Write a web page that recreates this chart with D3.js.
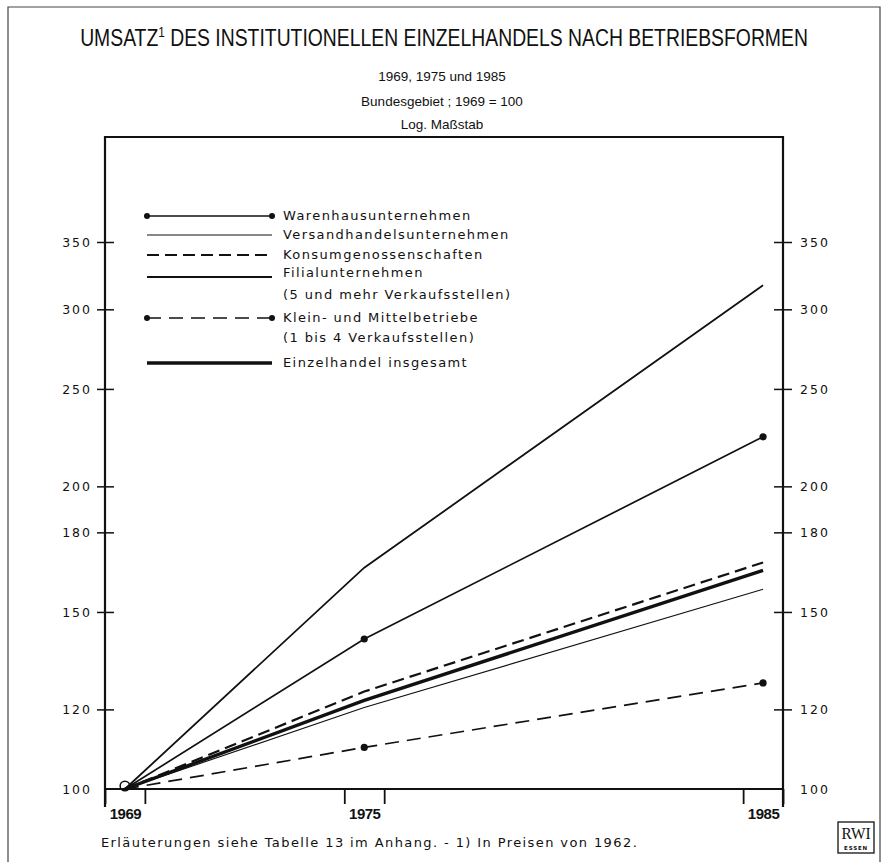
<!DOCTYPE html>
<html>
<head>
<meta charset="utf-8">
<script src="https://cdn.jsdelivr.net/npm/d3@7"></script>
<style>
  body { margin: 0; background: #fff; }
  svg { display: block; }
  .ax path, .ax line { stroke: #111; }
  .ytick text { font-family: "DejaVu Sans", sans-serif; font-size: 12.5px; letter-spacing: 2px; fill: #111; }
  .xlab text { font-family: "Liberation Sans", Arial, sans-serif; font-weight: bold; font-size: 15px; fill: #111; letter-spacing: -0.5px; }
  .leg { font-family: "DejaVu Sans", sans-serif; font-size: 13px; letter-spacing: 1.4px; fill: #111; }
  .sub { font-family: "Liberation Sans", Arial, sans-serif; font-size: 13.5px; fill: #111; }
</style>
</head>
<body>
<div class="forSvg"></div>
<script>
// -DATA-
const years = [1969, 1975, 1985];
const yTicks = [100, 120, 150, 180, 200, 250, 300, 350];

// index values, 1969 = 100
const warenhaus = [100, 141, 224];
const versand = [100, 120.5, 158];
const konsum = [100, 125, 168];
const filial = [100, 166, 317];
const klein = [100, 110, 127.5];
const insgesamt = [100, 122.5, 165];

const names = [
  "Warenhausunternehmen",
  "Versandhandelsunternehmen",
  "Konsumgenossenschaften",
  "Filialunternehmen",
  "Klein- und Mittelbetriebe",
  "Einzelhandel insgesamt"
];

// -SIZES-
const svg_w = 883;
const svg_h = 864;
const plotLeft = 105;
const plotRight = 783;
const plotTop = 137;
const tickDown = 17;

// style per series (width, dash, dots)
const series = [
  { name: names[0], values: warenhaus, w: 1.7, dash: null, dots: true },
  { name: names[1], values: versand, w: 1.1, dash: null, dots: false },
  { name: names[2], values: konsum, w: 2.2, dash: "12,6", dots: false },
  { name: names[3], values: filial, w: 1.8, dash: null, dots: false },
  { name: names[4], values: klein, w: 1.7, dash: "14,8", dots: true },
  { name: names[5], values: insgesamt, w: 3.4, dash: null, dots: false }
];

// -SCALES-
// each year is a one-year band, point drawn at the middle of it
const xScale = d3.scaleLinear()
  .domain([years[0] - 0.5, years[years.length - 1] + 0.5])
  .range([plotLeft, plotRight]);

const yScale = d3.scaleLog()
  .domain([100, 350])
  .range([789, 242]);

const base = yScale(100);

const svg = d3.select(".forSvg")
  .append("svg")
  .attr("width", svg_w)
  .attr("height", svg_h);

svg.append("rect")
  .attr("width", svg_w).attr("height", svg_h)
  .attr("fill", "#fff");

// outer frame (left, top, right)
svg.append("path")
  .attr("d", "M8,862 V7 H880 V862")
  .attr("fill", "none")
  .attr("stroke", "#444")
  .attr("stroke-width", 1.2);

// -TITLES-
// condensed look: measure the text and squeeze it to width
const title = svg.append("text")
  .attr("x", 0)
  .attr("y", 0)
  .attr("text-anchor", "middle")
  .attr("font-family", "'Liberation Sans', Arial, sans-serif")
  .attr("font-size", 23)
  .attr("fill", "#111");
title.append("tspan").text("UMSATZ");
title.append("tspan").attr("dy", -9).attr("font-size", 14).text("1");
title.append("tspan").attr("dy", 9).text(" DES INSTITUTIONELLEN EINZELHANDELS NACH BETRIEBSFORMEN");
const titleW = title.node().getComputedTextLength();
title.attr("transform", "translate(444,46) scale(" + (728 / titleW) + ",1)");

const subs = ["1969, 1975 und 1985", "Bundesgebiet ; 1969 = 100", "Log. Maßstab"];
svg.selectAll("text.sub")
  .data(subs)
  .enter()
  .append("text")
  .attr("class", "sub")
  .attr("x", 442)
  .attr("y", (d, i) => [81, 106, 129][i])
  .attr("text-anchor", "middle")
  .text(d => d);

// -AXES-
// top line of frame
svg.append("line")
  .attr("x1", plotLeft).attr("x2", plotRight)
  .attr("y1", plotTop).attr("y2", plotTop)
  .attr("stroke", "#111").attr("stroke-width", 2);

// left and right axis lines, running a bit below the base line
[plotLeft, plotRight].forEach(xx => {
  svg.append("line")
    .attr("x1", xx).attr("x2", xx)
    .attr("y1", plotTop - 1).attr("y2", base + tickDown + 1)
    .attr("stroke", "#111").attr("stroke-width", 2.2);
});

// base line
svg.append("line")
  .attr("x1", plotLeft).attr("x2", plotRight)
  .attr("y1", base).attr("y2", base)
  .attr("stroke", "#111").attr("stroke-width", 2);

// y axis left
const yAxisL = d3.axisLeft(yScale)
  .tickValues(yTicks)
  .tickFormat(d3.format("d"))
  .tickSize(8)
  .tickPadding(6);

const gL = svg.append("g")
  .attr("class", "ax ytick")
  .attr("transform", "translate(" + plotLeft + ",0)")
  .call(yAxisL);
gL.select(".domain").remove();
gL.selectAll(".tick line")
  .attr("x1", 9)
  .attr("stroke-width", 1.5)
  .attr("display", d => d === 100 ? "none" : null);
gL.selectAll(".tick text").attr("x", -13).attr("dy", "0.36em");

// y axis right
const yAxisR = d3.axisRight(yScale)
  .tickValues(yTicks)
  .tickFormat(d3.format("d"))
  .tickSize(9)
  .tickPadding(8);

const gR = svg.append("g")
  .attr("class", "ax ytick")
  .attr("transform", "translate(" + plotRight + ",0)")
  .call(yAxisR);
gR.select(".domain").remove();
gR.selectAll(".tick line")
  .attr("x1", -9)
  .attr("stroke-width", 1.5)
  .attr("display", d => d === 100 ? "none" : null);
gR.selectAll(".tick text").attr("x", 17).attr("dy", "0.36em");

// x axis: short ticks on the edges of each year band
const edges = [];
years.forEach(yr => { edges.push(yr - 0.5, yr + 0.5); });

const gX = svg.append("g")
  .attr("class", "ax")
  .attr("transform", "translate(0," + base + ")")
  .call(d3.axisBottom(xScale).tickValues(edges).tickFormat("").tickSize(tickDown - 2));
gX.select(".domain").remove();
gX.selectAll(".tick line").attr("stroke-width", 1.8);

// year labels in the middle of the band
const gXL = svg.append("g")
  .attr("class", "xlab")
  .attr("transform", "translate(0," + base + ")")
  .call(d3.axisBottom(xScale).tickValues(years).tickFormat(d3.format("d")).tickSize(0).tickPadding(19));
gXL.select(".domain").remove();

// -LINES-
const line = d3.line()
  .x((d, i) => xScale(years[i]))
  .y(d => yScale(d));

svg.selectAll("path.series")
  .data(series)
  .enter()
  .append("path")
  .attr("class", "series")
  .attr("d", d => line(d.values))
  .attr("fill", "none")
  .attr("stroke", "#111")
  .attr("stroke-width", d => d.w)
  .attr("stroke-dasharray", d => d.dash)
  .attr("stroke-linecap", "butt");

// dots at 1975 and 1985
series.filter(s => s.dots).forEach(s => {
  svg.selectAll(null)
    .data(s.values.slice(1))
    .enter()
    .append("circle")
    .attr("cx", (d, i) => xScale(years[i + 1]))
    .attr("cy", d => yScale(d))
    .attr("r", 3.6)
    .attr("fill", "#111");
});

// open circle at the common start 1969 = 100
svg.append("circle")
  .attr("cx", xScale(years[0]))
  .attr("cy", yScale(100) - 3)
  .attr("r", 4.8)
  .attr("fill", "none")
  .attr("stroke", "#111")
  .attr("stroke-width", 1.5);

// -LEGEND-
const legX1 = 147;
const legX2 = 272;
const legText = 283;
const legRows = [216, 235, 255, 277, 318, 363];

const leg = svg.append("g").attr("id", "legend");
series.forEach((s, i) => {
  const ly = legRows[i];
  leg.append("line")
    .attr("x1", legX1).attr("x2", legX2)
    .attr("y1", ly).attr("y2", ly)
    .attr("stroke", "#111")
    .attr("stroke-width", s.w)
    .attr("stroke-dasharray", s.dash);
  if (s.dots) {
    [legX1, legX2].forEach(cx => {
      leg.append("circle").attr("cx", cx).attr("cy", ly).attr("r", 3).attr("fill", "#111");
    });
  }
  leg.append("text")
    .attr("class", "leg")
    .attr("x", legText)
    .attr("y", ly + (i === 3 ? 0 : 4))
    .text(s.name);
});
// second lines of two legend entries
leg.append("text").attr("class", "leg").attr("x", legText).attr("y", 299)
  .text("(5 und mehr Verkaufsstellen)");
leg.append("text").attr("class", "leg").attr("x", legText).attr("y", 342)
  .text("(1 bis 4 Verkaufsstellen)");

// -FOOTNOTE-
svg.append("text")
  .attr("class", "leg")
  .attr("x", 101)
  .attr("y", 847)
  .text("Erläuterungen siehe Tabelle 13 im Anhang. - 1) In Preisen von 1962.");

// -LOGO-
const logo = svg.append("g").attr("transform", "translate(838,822)");
logo.append("rect")
  .attr("width", 36).attr("height", 31)
  .attr("fill", "#fff")
  .attr("stroke", "#111").attr("stroke-width", 1.3);
logo.append("text")
  .attr("x", 18).attr("y", 17)
  .attr("text-anchor", "middle")
  .attr("font-family", "'Liberation Serif', 'Times New Roman', serif")
  .attr("font-size", 17)
  .attr("textLength", 29)
  .attr("lengthAdjust", "spacingAndGlyphs")
  .attr("fill", "#111")
  .text("RWI");
logo.append("text")
  .attr("x", 18).attr("y", 27.5)
  .attr("text-anchor", "middle")
  .attr("font-family", "'DejaVu Sans', sans-serif")
  .attr("font-weight", "bold")
  .attr("font-size", 5.5)
  .attr("letter-spacing", 0.8)
  .attr("fill", "#111")
  .text("ESSEN");
</script>
</body>
</html>
